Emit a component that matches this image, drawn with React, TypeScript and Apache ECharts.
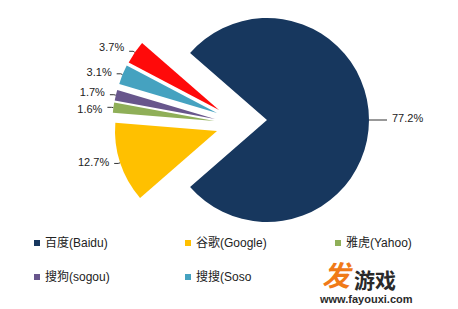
import React, { useEffect, useRef } from "react";
import * as echarts from "echarts";

const categories = ["百度(Baidu)", "谷歌(Google)", "雅虎(Yahoo)", "搜狗(sogou)", "搜搜(Soso)", "其他"];
const shares = [77.2, 12.7, 1.6, 1.7, 3.1, 3.7];
const colors = ["#17375e", "#ffc000", "#8faf58", "#68568c", "#45a2c0", "#ff0a0a"];
const legendNames = ["百度(Baidu)", "谷歌(Google)", "雅虎(Yahoo)", "搜狗(sogou)", "搜搜(Soso)"];

// layout: exploded centre of each slice (px)
const sliceCenters = [
  [267, 120],
  [217, 131],
  [214.5, 121],
  [215, 119],
  [217, 113],
  [219, 110],
];
// layout: vertical nudge of each label (px)
const labelDy = [-2, -1, 2, -3, -2, -4];
const legendPos = [
  [34, 237],
  [185, 237],
  [335, 237],
  [34, 271],
  [185, 271],
];

export default function App() {
  const ref = useRef<HTMLDivElement>(null);
  useEffect(() => {
    document.body.style.margin = "0";
    const chart = echarts.init(ref.current!, undefined, { renderer: "svg" });
    const gapPct = 100 - shares[0];
    const startAngle = 180 - (gapPct / 100) * 180;
    const series = categories.map((_, i) => ({
      type: "pie",
      center: sliceCenters[i],
      radius: [0, 102],
      startAngle,
      clockwise: true,
      avoidLabelOverlap: false,
      emphasis: { disabled: true },
      itemStyle: { borderWidth: 0 },
      label: {
        position: "outside",
        color: "#222",
        fontSize: 11,
        fontFamily: "Liberation Sans, Arial, sans-serif",
        formatter: (p: any) => Number(p.value).toFixed(1) + "%",
      },
      labelLayout: () => ({ dy: labelDy[i] }),
      labelLine: {
        length: i === 0 ? 6 : 2,
        length2: i === 0 ? 12 : 4,
        lineStyle: { color: "#333", width: 1 },
      },
      data: categories.map((n, j) => ({
        name: n,
        value: shares[j],
        itemStyle: { color: j === i ? colors[j] : "rgba(0,0,0,0)" },
        label: { show: j === i },
        labelLine: { show: j === i },
      })),
    }));
    const legend = legendNames.map((n, k) => ({
      left: legendPos[k][0],
      top: legendPos[k][1],
      padding: 0,
      icon: "rect",
      itemWidth: 6,
      itemHeight: 6,
      selectedMode: false,
      textStyle: {
        color: "#222",
        fontSize: 12,
        fontFamily: "Liberation Sans, Noto Sans CJK SC, sans-serif",
        ...(k === 4 ? { width: 59, overflow: "truncate", ellipsis: "" } : {}),
      },
      data: [{ name: n, itemStyle: { color: colors[categories.indexOf(n)] } }],
    }));
    chart.setOption({
      animation: false,
      backgroundColor: "#ffffff",
      legend,
      series,
      graphic: [
        {
          type: "text",
          left: 322,
          top: 260,
          style: {
            text: "发",
            fill: "#f07a18",
            font: "italic bold 28px Noto Sans CJK SC, sans-serif",
          },
        },
        {
          type: "text",
          left: 354,
          top: 268,
          style: {
            text: "游戏",
            fill: "#2a2a2a",
            font: "bold 21px Noto Sans CJK SC, sans-serif",
          },
        },
        {
          type: "text",
          left: 320,
          top: 293,
          style: {
            text: "www.fayouxi.com",
            fill: "#2a2a2a",
            font: "bold 11px Liberation Sans, Arial, sans-serif",
          },
        },
      ],
    });
    return () => chart.dispose();
  }, []);
  return <div ref={ref} style={{ width: 458, height: 309 }} />;
}
